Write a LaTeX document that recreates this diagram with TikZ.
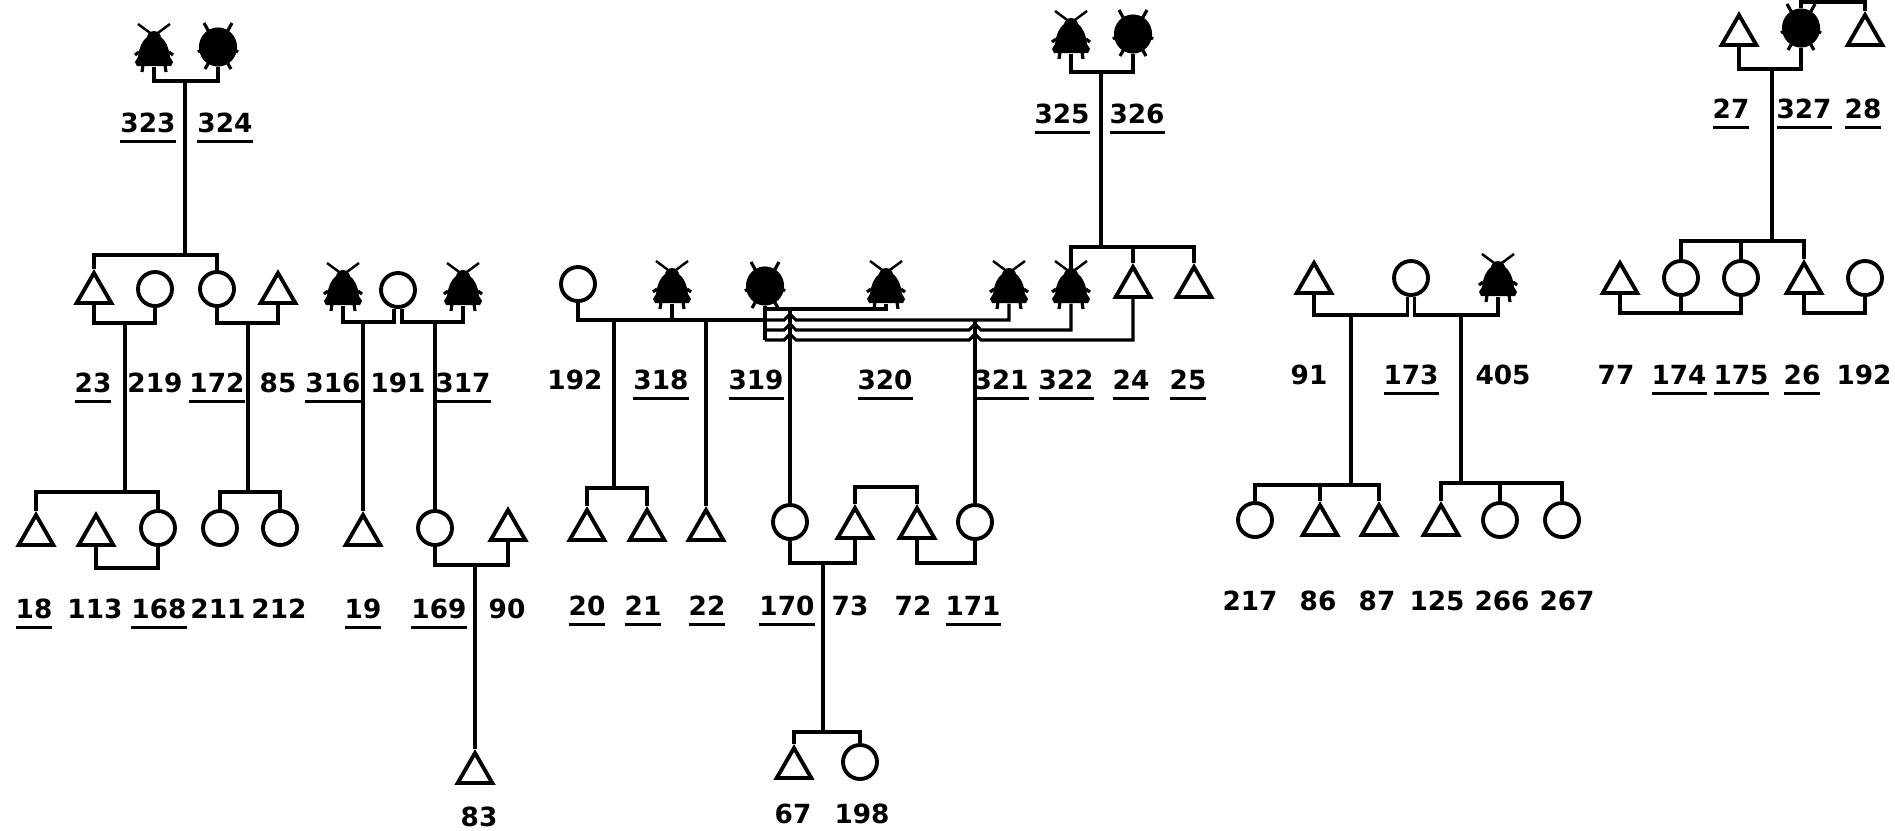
\documentclass[tikz,border=0pt]{standalone}
\usepackage{fontspec}
\setmainfont{DejaVu Sans}
\usetikzlibrary{shapes.geometric}
\newcommand{\ul}[1]{\setbox0\hbox{#1}\rlap{\raisebox{-1.1mm}{\rule{\wd0}{0.3mm}}}\box0}
\tikzset{
  line/.style={line width=0.9pt},
  male/.style={draw, line width=1.1pt, regular polygon, regular polygon sides=3, minimum size=4mm, inner sep=0pt},
  female/.style={draw, line width=1.1pt, circle, minimum size=3.4mm, inner sep=0pt},
  flym/.style={regular polygon, regular polygon sides=3, minimum size=4.4mm, inner sep=0pt},
  flyf/.style={draw, fill, line width=0.6pt, ellipse, minimum width=3.6mm, minimum height=3.7mm, inner sep=0pt},
  lab/.style={anchor=base, inner sep=0pt, font=\bfseries\fontsize{7.5}{9}\selectfont},
}
\begin{document}
\begin{tikzpicture}[x=0.1mm, y=-0.1mm]
\useasboundingbox (0,0) rectangle (1895,830);
% individuals
\node[flym] (i323) at (154,55) {};
\node[flyf] (i324) at (218,47) {};
\node[flym] (i325) at (1071,42) {};
\node[flyf] (i326) at (1133,34) {};
\node[male] (i27) at (1739,35) {};
\node[flyf] (i327) at (1801,28) {};
\node[male] (i28) at (1865,35) {};

\node[male] (i23) at (94,293) {};
\node[female] (i219) at (155,289) {};
\node[female] (i172) at (217,289) {};
\node[male] (i85) at (278,293) {};
\node[flym] (i316) at (343,294) {};
\node[female] (i191) at (398,290) {};
\node[flym] (i317) at (463,294) {};
\node[female] (i192) at (578,284) {};
\node[flym] (i318) at (672,292) {};
\node[flyf] (i319) at (765,286) {};
\node[flym] (i320) at (886,292) {};
\node[flym] (i321) at (1009,292) {};
\node[flym] (i322) at (1071,292) {};
\node[male] (i24) at (1133,287) {};
\node[male] (i25) at (1194,287) {};
\node[male] (i91) at (1314,283) {};
\node[female] (i173) at (1411,278) {};
\node[flym] (i405) at (1498,285) {};
\node[male] (i77) at (1620,283) {};
\node[female] (i174) at (1681,278) {};
\node[female] (i175) at (1741,278) {};
\node[male] (i26) at (1804,283) {};
\node[female] (i192b) at (1865,278) {};

\node[male] (i18) at (36,535) {};
\node[male] (i113) at (96,535) {};
\node[female] (i168) at (158,528) {};
\node[female] (i211) at (220,528) {};
\node[female] (i212) at (280,528) {};
\node[male] (i19) at (363,535) {};
\node[female] (i169) at (435,528) {};
\node[male] (i90) at (508,530) {};
\node[male] (i83) at (475,773) {};
\node[male] (i20) at (587,530) {};
\node[male] (i21) at (647,530) {};
\node[male] (i22) at (706,530) {};
\node[female] (i170) at (790,522) {};
\node[male] (i73) at (855,528) {};
\node[male] (i72) at (917,528) {};
\node[female] (i171) at (975,522) {};
\node[male] (i67) at (794,768) {};
\node[female] (i198) at (860,762) {};
\node[female] (i217) at (1255,520) {};
\node[male] (i86) at (1320,525) {};
\node[male] (i87) at (1379,525) {};
\node[male] (i125) at (1441,525) {};
\node[female] (i266) at (1500,520) {};
\node[female] (i267) at (1562,520) {};

% affected: fly bodies, antennae and legs
\foreach \n in {i323,i325,i316,i317,i318,i320,i321,i322,i405}{
  \begin{scope}[shift={(\n.center)}]
    \fill (-17,11) -- (-19,7) -- (-16,2) -- (-15,-4) -- (-13,-10) -- (-10,-15) -- (-6,-19)
      -- (6,-19) -- (10,-15) -- (13,-10) -- (15,-4) -- (16,2) -- (19,7) -- (17,11) -- cycle;
    \fill (0,-17) circle (7);
    \draw[line width=0.7pt] (-16,-31) -- (7,-14) (16,-31) -- (-7,-14);
    \draw[line width=0.9pt] (-11,10) -- (-12,17) (11,10) -- (12,17)
      (-15,-3) -- (-19,0) (15,-3) -- (19,0);
  \end{scope}
}
\foreach \n in {i324,i326,i327,i319}{
  \draw[line] (\n.center) +(-9,-15) -- +(-14,-24) +(9,-15) -- +(14,-24)
    +(-9,15) -- +(-13,22) +(9,15) -- +(13,22) +(-17,3) -- +(-20,5) +(17,3) -- +(20,5);
}

% descent points
\coordinate (m323) at (185,81);  \coordinate (s323) at (185,255);
\coordinate (m325) at (1101,72); \coordinate (s325) at (1101,247);
\coordinate (m27) at (1772,69);  \coordinate (s27) at (1772,241);
\coordinate (m23) at (125,323);  \coordinate (s23) at (125,492);
\coordinate (m113) at (127,568);
\coordinate (m172) at (248,323); \coordinate (s172) at (248,492);
\coordinate (m316) at (363,322);
\coordinate (m317) at (435,322);
\coordinate (m169) at (475,565);
\coordinate (m192) at (614,320); \coordinate (s192) at (614,488);
\coordinate (m318) at (706,320);
\coordinate (c319) at (765,320); \coordinate (k319) at (765,340);
\coordinate (d320) at (790,309);
\coordinate (d321) at (975,320);
\coordinate (m170) at (823,563); \coordinate (s170) at (823,732);
\coordinate (m72) at (946,563);
\coordinate (s73) at (886,487);
\coordinate (m91) at (1351,315); \coordinate (s91) at (1351,485);
\coordinate (m173) at (1461,315); \coordinate (s173) at (1461,483);
\coordinate (m77) at (1681,313);
\coordinate (m26) at (1834,313);
\coordinate (t28) at (1865,2);

% matings and sibships
\draw[line] (i323.south) |- (m323) -| (i324.south);
\draw[line] (m323) -- (s323);
\draw[line] (i23.north) |- (s323) -| (i172.north);
\draw[line] (i23.south) |- (m23) -| (i219.south);
\draw[line] (m23) -- (s23);
\draw[line] (i18.north) |- (s23) -| (i168.north);
\draw[line] (i113.south) |- (m113) -| (i168.south);
\draw[line] (i172.south) |- (m172) -| (i85.south);
\draw[line] (m172) -- (s172);
\draw[line] (i211.north) |- (s172) -| (i212.north);
\draw[line] (i316.south) |- (m316) -| ([xshift=-0.4mm]i191.south);
\draw[line] (m316) -- (i19.north);
\draw[line] ([xshift=0.4mm]i191.south) |- (m317) -| (i317.south);
\draw[line] (m317) -- (i169.north);
\draw[line] (i169.south) |- (m169) -| (i90.south);
\draw[line] (m169) -- (i83.north);

\draw[line] (i192.south) |- (c319);
\draw[line] (i318.south) -- (i318.south |- c319);
\draw[line] (m192) -- (s192);
\draw[line] (i20.north) |- (s192) -| (i21.north);
\draw[line] (m318) -- (i22.north);
\draw[line] (i319.south) -- (k319);
\draw[line] (i319.south |- d320) -| (i320.south);
\draw[line] (c319) -- (784,320) -- (790,314) -- (796,320) -| (i321.south);
\draw[line] (765,330) -- (784,330) -- (790,324) -- (796,330) -- (969,330) -- (975,324) -- (981,330) -| (i322.south);
\draw[line] (k319) -- (784,340) -- (790,334) -- (796,340) -- (969,340) -- (975,334) -- (981,340) -| (i24.south);
\draw[line] (d320) -- (i170.north);
\draw[line] (d321) -- (i171.north);
\draw[line] (i170.south) |- (m170) -| (i73.south);
\draw[line] (m170) -- (s170);
\draw[line] (i67.north) |- (s170) -| (i198.north);
\draw[line] (i73.north) |- (s73) -| (i72.north);
\draw[line] (i72.south) |- (m72) -| (i171.south);
\draw[line] (i325.south) |- (m325) -| (i326.south);
\draw[line] (m325) -- (s325);
\draw[line] (i322.north) |- (s325) -| (i25.north);
\draw[line] (i24.north) -- (i24.north |- s325);

\draw[line] (i91.south) |- (m91) -| ([xshift=-0.35mm]i173.south);
\draw[line] (m91) -- (s91);
\draw[line] (i217.north) |- (s91) -| (i87.north);
\draw[line] (i86.north) -- (i86.north |- s91);
\draw[line] ([xshift=0.35mm]i173.south) |- (m173) -| (i405.south);
\draw[line] (m173) -- (s173);
\draw[line] (i125.north) |- (s173) -| (i267.north);
\draw[line] (i266.north) -- (i266.north |- s173);
\draw[line] (i27.south) |- (m27) -| (i327.south);
\draw[line] (m27) -- (s27);
\draw[line] (i174.north) |- (s27) -| (i26.north);
\draw[line] (i175.north) -- (i175.north |- s27);
\draw[line] (i77.south) |- (m77) -| (i175.south);
\draw[line] (i174.south) -- (i174.south |- m77);
\draw[line] (i26.south) |- (m26) -| (i192b.south);
\draw[line] (i327.north) |- (t28) -- (i28.north);

% labels
\foreach \n/\x/\y in {323/148/132, 324/225/132, 325/1062/123, 326/1137/123,
  27/1731/118, 327/1804/118, 28/1863/118,
  23/93/392, 172/217/392, 316/333/392, 317/463/392,
  318/661/389, 319/756/389, 320/885/389, 321/1001/389, 322/1066/389, 24/1131/389, 25/1188/389,
  173/1411/384, 174/1679/384, 175/1741/384, 26/1802/384,
  18/34/618, 168/159/618, 19/363/618, 169/439/618,
  20/587/615, 21/643/615, 22/707/615, 170/787/615, 171/973/615}
  \node[lab] (l\n) at (\x,\y) {\ul{\n}};
\foreach \n/\x/\y in {219/155/392, 85/278/392, 191/398/392, 192/575/389,
  91/1309/384, 405/1503/384, 77/1616/384,
  113/95/618, 211/218/618, 212/279/618, 90/507/618,
  73/850/615, 72/913/615,
  217/1250/610, 86/1318/610, 87/1377/610, 125/1437/610, 266/1502/610, 267/1567/610,
  83/479/826, 67/793/823, 198/862/823}
  \node[lab] (l\n) at (\x,\y) {\n};
\node[lab] (l192b) at (1864,384) {192};
\end{tikzpicture}
\end{document}
